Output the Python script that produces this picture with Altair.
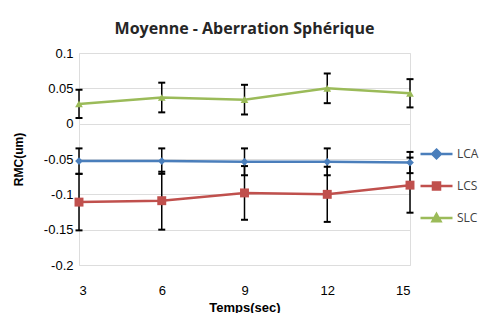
import altair as alt
import pandas as pd

times = [3, 6, 9, 12, 15]
series_names = ["LCA", "LCS", "SLC"]
lca = [-0.053, -0.053, -0.054, -0.054, -0.055]
lca_err = [0.018, 0.018, 0.019, 0.019, 0.015]
lcs = [-0.111, -0.109, -0.098, -0.100, -0.087]
lcs_err = [0.040, 0.041, 0.038, 0.039, 0.039]
slc = [0.028, 0.037, 0.034, 0.050, 0.043]
slc_err = [0.020, 0.021, 0.021, 0.021, 0.020]
y_ticks = [0.1, 0.05, 0, -0.05, -0.1, -0.15, -0.2]
colors = ["#4A7EBB", "#C0504D", "#9BBB59"]
std_shapes = ["diamond", "square", "triangle-up"]
legend_paths = [
    "M-1,0H1M0,-0.27L0.27,0L0,0.27L-0.27,0Z",
    "M-1,0H1M-0.22,-0.22H0.22V0.22H-0.22Z",
    "M-1,0H1M0,-0.25L0.25,0.2H-0.25Z",
]

rows = []
for name, vals, errs in [("LCA", lca, lca_err), ("LCS", lcs, lcs_err), ("SLC", slc, slc_err)]:
    for t, v, e in zip(times, vals, errs):
        rows.append({"t": t, "v": v, "lo": v - e, "hi": v + e, "series": name, "lg": name})
df = pd.DataFrame(rows)

FONT = "Open Sans"
xaxis = alt.Axis(values=times, grid=False, domain=False, ticks=False,
                 labelPadding=19, title="Temps(sec)", titleFontWeight="bold",
                 titleFontSize=13, titlePadding=4, labelFontSize=13)
xenc = alt.X("t:Q", scale=alt.Scale(domain=[3, 15], nice=False), axis=xaxis)
yscale = alt.Scale(domain=[-0.2, 0.1], nice=False)
yaxis = alt.Axis(values=y_ticks, labelExpr="'' + datum.value", domain=False,
                 ticks=False, labelPadding=6, labelOverlap=False, title="RMC(um)",
                 titleFontWeight="bold", titleFontSize=12,
                 titleX=-54, titleY=106, labelFontSize=13, tickCount=7)
yenc = alt.Y("v:Q", scale=yscale, axis=yaxis)
cscale = alt.Scale(domain=series_names, range=colors)

base = alt.Chart(df)

legend_layer = base.mark_point(filled=True, size=4, strokeWidth=2.5, opacity=1).encode(
    x=xenc, y=yenc,
    fill=alt.Fill("lg:N", scale=alt.Scale(domain=series_names, range=colors),
                  legend=alt.Legend(title=None, orient="none", legendX=340, legendY=85,
                                    symbolSize=1024, symbolStrokeWidth=2.5, clipHeight=32,
                                    labelFontSize=12, labelOffset=3, rowPadding=0,
                                    symbolOpacity=1,
                                    labelColor="#404040", labelFont=FONT, padding=0)),
    stroke=alt.Stroke("lg:N", scale=alt.Scale(domain=series_names, range=colors)),
    shape=alt.Shape("lg:N", scale=alt.Scale(domain=series_names, range=legend_paths)),
)

lines = base.mark_line(strokeWidth=2.5).encode(
    x=xenc, y=yenc, color=alt.Color("series:N", scale=cscale, legend=None))

rules = base.mark_rule(color="black", strokeWidth=1.5).encode(
    x=xenc, y=alt.Y("lo:Q", scale=yscale, axis=yaxis), y2="hi:Q")
cap_lo = base.mark_tick(color="black", thickness=2, size=7, orient="horizontal", opacity=1).encode(
    x=xenc, y=alt.Y("lo:Q", scale=yscale, axis=yaxis))
cap_hi = base.mark_tick(color="black", thickness=2, size=7, orient="horizontal", opacity=1).encode(
    x=xenc, y=alt.Y("hi:Q", scale=yscale, axis=yaxis))

point_layers = []
for name, shp, sz in zip(series_names, std_shapes, [60, 80, 60]):
    point_layers.append(
        base.transform_filter(alt.datum.series == name)
        .mark_point(filled=True, shape=shp, size=sz, opacity=1)
        .encode(x=xenc, y=yenc, color=alt.Color("series:N", scale=cscale, legend=None))
    )

chart = alt.layer(legend_layer, lines, rules, cap_lo, cap_hi, *point_layers).properties(
    width=331, height=212,
    autosize=alt.AutoSizeParams(type="none"),
    padding={"left": 71, "top": 45, "right": 69, "bottom": 48},
    title=alt.TitleParams("Moyenne - Aberration Sphérique", fontSize=16, fontWeight="bold",
                          font=FONT, color="#262626", offset=10, anchor="middle"),
).configure_axis(
    labelFont=FONT, titleFont=FONT, labelColor="#404040", titleColor="#262626",
    gridColor="#D0D0D0", gridWidth=1
).configure_view(stroke=None).configure(background="white")

chart.save("out.html", embed_options={"renderer": "svg", "actions": False})
